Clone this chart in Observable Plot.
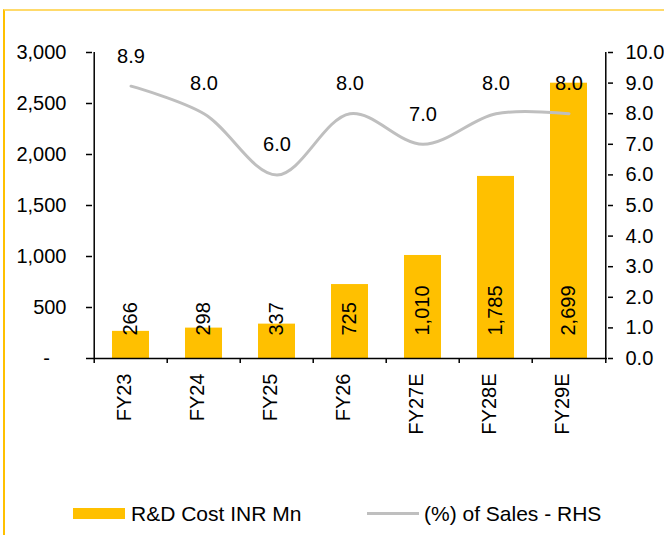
<!DOCTYPE html>
<html>
<head>
<meta charset="utf-8">
<script src="https://cdn.jsdelivr.net/npm/d3@7"></script>
<script src="https://cdn.jsdelivr.net/npm/@observablehq/plot@0.6"></script>
<style>
  html, body { margin: 0; padding: 0; background: #fff; overflow: hidden; }
  body { font-family: "Liberation Sans", Arial, sans-serif; color: #000; }
  #wrap { position: relative; width: 664px; height: 535px; overflow: hidden; }
  #border { position: absolute; left: 3px; top: 9px; width: 720px; height: 600px;
            border-top: 2px solid #FFDA6B; border-left: 2px solid #FFC000; pointer-events: none; }
  #chart { position: absolute; left: 0; top: 0; }
  .leg { position: absolute; font-size: 21px; line-height: 21px; white-space: nowrap; }
  .sw { position: absolute; }
</style>
</head>
<body>
<div id="wrap">
  <div id="border"></div>
  <div id="chart"></div>
  <div class="sw" style="left:73px; top:508px; width:52px; height:11px; background:#FFC000;"></div>
  <div class="leg" style="left:131px; top:503px;">R&amp;D Cost INR Mn</div>
  <div class="sw" style="left:367px; top:512px; width:52px; height:3px; background:#BFBFBF;"></div>
  <div class="leg" style="left:424px; top:503px;">(%) of Sales - RHS</div>
</div>
<script>
const categories = ["FY23", "FY24", "FY25", "FY26", "FY27E", "FY28E", "FY29E"];
const rdCost = [266, 298, 337, 725, 1010, 1785, 2699];
const pctSales = [8.9, 8.0, 6.0, 8.0, 7.0, 8.0, 8.0];
const leftTicks = [0, 500, 1000, 1500, 2000, 2500, 3000];
const rightTicks = [0, 1, 2, 3, 4, 5, 6, 7, 8, 9, 10];
const RATIO = 300; // right axis 0..10 maps onto left axis 0..3000

const data = categories.map((c, i) => ({cat: c, cost: rdCost[i], pct: pctSales[i]}));

const W = 664, H = 470, ML = 92, MR = 57, MT = 52, MB = 112;
const step = (W - ML - MR) / categories.length;
const fmt = d3.format(",");
const FS = 20;

const chart = Plot.plot({
  width: W, height: H,
  marginLeft: ML, marginRight: MR, marginTop: MT, marginBottom: MB,
  style: {fontFamily: "'Liberation Sans', Arial, sans-serif", fontSize: "20px", color: "#000", background: "transparent", overflow: "visible"},
  x: {type: "band", domain: categories, paddingInner: 0.5, paddingOuter: 0.25, axis: null, label: null},
  y: {domain: [0, 3000], axis: null, label: null},
  marks: [
    Plot.barY(data, {x: "cat", y: "cost", fill: "#FFC000"}),
    Plot.line(data, {x: "cat", y: d => d.pct * RATIO, stroke: "#BFBFBF", strokeWidth: 3, curve: "catmull-rom"}),
    Plot.text(data, {x: "cat", y: d => d.pct * RATIO, text: d => d.pct.toFixed(1), dy: -30, fontSize: FS, fill: "#000"}),
    Plot.text(data, {x: "cat", y: 0, text: d => fmt(d.cost), rotate: -90, textAnchor: "start", dy: -23, fontSize: FS, fill: "#000"}),
    // x axis line
    Plot.ruleY([0], {stroke: "#000", strokeWidth: 1.5}),
    // left and right vertical axis lines
    Plot.ruleX([categories[0]], {x: d => d, dx: -step / 2, y1: 0, y2: 3000, stroke: "#000", strokeWidth: 1.5}),
    Plot.ruleX([categories[categories.length - 1]], {x: d => d, dx: step / 2, y1: 0, y2: 3000, stroke: "#000", strokeWidth: 1.5}),
    // category boundary ticks
    Plot.axisX({anchor: "bottom", label: null, tickSize: 5, tickFormat: () => "", dx: -step / 2, strokeWidth: 1.5}),
    Plot.axisX({anchor: "bottom", label: null, ticks: [categories[categories.length - 1]], tickSize: 5, tickFormat: () => "", dx: step / 2, strokeWidth: 1.5}),
    // category labels
    Plot.text(categories, {x: d => d, frameAnchor: "bottom", dy: 15, rotate: -90, textAnchor: "end", fontSize: FS, fill: "#000"}),
    // left axis
    Plot.axisY({anchor: "left", label: null, ticks: leftTicks, tickSize: 6, tickPadding: 20, strokeWidth: 1.5, fontSize: FS,
      tickFormat: d => d === 0 ? "-\u00a0\u00a0\u00a0" : fmt(d)}),
    // right axis
    Plot.axisY({anchor: "right", label: null, ticks: rightTicks.map(v => v * RATIO), tickSize: 5, tickPadding: 13, strokeWidth: 1.5, fontSize: FS,
      tickFormat: d => (d / RATIO).toFixed(1)})
  ]
});
document.getElementById("chart").appendChild(chart);
</script>
</body>
</html>
